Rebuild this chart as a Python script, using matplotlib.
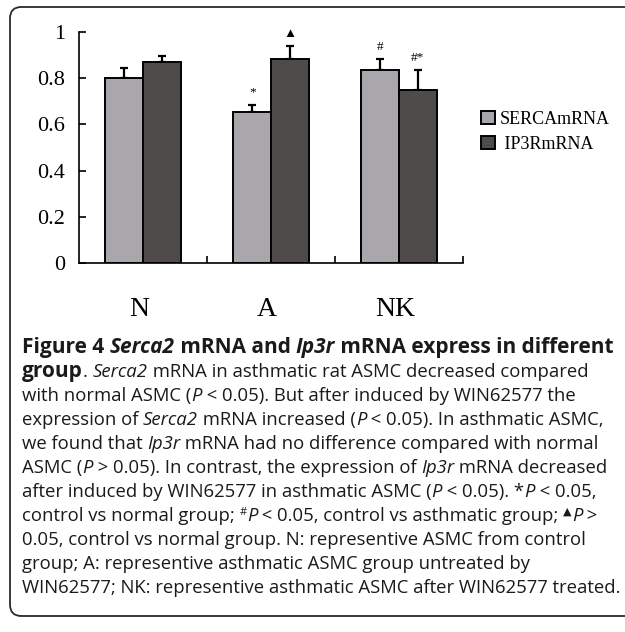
import matplotlib
matplotlib.use("Agg")
import matplotlib.pyplot as plt
import matplotlib.transforms as mtransforms
import numpy as np
from matplotlib.patches import FancyBboxPatch

# expression levels per group (relative units)
groups = ["N", "A", "NK"]
series_names = ["SERCAmRNA", "IP3RmRNA"]
serca = [0.80, 0.655, 0.835]
serca_err = [0.045, 0.028, 0.048]
ip3r = [0.868, 0.883, 0.750]
ip3r_err = [0.030, 0.055, 0.084]
serca_marks = ["", "*", "#"]
ip3r_marks = ["", "\u25b2", "#*"]
yticks = [0, 0.2, 0.4, 0.6, 0.8, 1]
ytick_labels = ["0", "0.2", "0.4", "0.6", "0.8", "1"]

# caption, one list of (text, style) runs per printed line
caption = [
    [("Figure 4 ", "b"), ("Serca2", "bi"), (" mRNA and ", "b"), ("Ip3r", "bi"),
     (" mRNA express in different", "b")],
    [("group", "b"), (". ", "r"), ("Serca2", "i"),
     (" mRNA in asthmatic rat ASMC decreased compared", "r")],
    [("with normal ASMC (", "r"), ("P", "i"), (" < 0.05). But after induced by WIN62577 the", "r")],
    [("expression of ", "r"), ("Serca2", "i"), (" mRNA increased (", "r"), ("P", "i"),
     (" < 0.05). In asthmatic ASMC,", "r")],
    [("we found that ", "r"), ("Ip3r", "i"), (" mRNA had no difference compared with normal", "r")],
    [("ASMC (", "r"), ("P", "i"), (" > 0.05). In contrast, the expression of ", "r"), ("Ip3r", "i"),
     (" mRNA decreased", "r")],
    [("after induced by WIN62577 in asthmatic ASMC (", "r"), ("P", "i"), (" < 0.05). *", "r"),
     ("P", "i"), (" < 0.05,", "r")],
    [("control vs normal group; ", "r"), ("#", "sup"), ("P", "i"),
     (" < 0.05, control vs asthmatic group; ", "r"), ("\u25b2", "sup"), ("P", "i"), (" >", "r")],
    [("0.05, control vs normal group. N: representive ASMC from control", "r")],
    [("group; A: representive asthmatic ASMC group untreated by", "r")],
    [("WIN62577; NK: representive asthmatic ASMC after WIN62577 treated.", "r")],
]

W, H = 625, 632
serif = ["Liberation Serif", "DejaVu Serif"]
light = "#a9a7ab"
dark = "#4f4b4b"

fig = plt.figure(figsize=(W / 100, H / 100), dpi=100)
fig.patch.set_facecolor("white")
ax = fig.add_axes([79 / W, 1 - 263 / H, (463 - 79) / W, (263 - 32) / H])

x = np.arange(len(groups))
bw = 0.293
ax.bar(x - bw / 2, serca, bw, color=light, edgecolor="black", linewidth=1.4,
       label=series_names[0], zorder=2)
ax.bar(x + bw / 2, ip3r, bw, color=dark, edgecolor="black", linewidth=1.4,
       label=" " + series_names[1], zorder=2)
ax.errorbar(x - bw / 2, serca, yerr=[np.zeros(len(x)), serca_err], fmt="none",
            ecolor="black", elinewidth=1.6, capsize=3, capthick=1.6, zorder=1)
ax.errorbar(x + bw / 2, ip3r, yerr=[np.zeros(len(x)), ip3r_err], fmt="none",
            ecolor="black", elinewidth=1.6, capsize=3, capthick=1.6, zorder=1)

# significance marks above the error bars
for xs, vals, errs, marks in [(x - bw / 2, serca, serca_err, serca_marks),
                              (x + bw / 2, ip3r, ip3r_err, ip3r_marks)]:
    for xi, v, e, m in zip(xs, vals, errs, marks):
        if m:
            ax.annotate(m, (xi, v + e), xytext=(0, 9), textcoords="offset points",
                        ha="center", va="center", fontsize=9.5,
                        family=serif + ["DejaVu Sans"])

ax.set_xlim(-0.5, len(groups) - 0.5)
ax.set_ylim(0, 1)
ax.set_yticks(yticks)
ax.set_yticklabels(ytick_labels, family=serif, fontsize=16)
ax.set_xticks(list(x + 0.5))
ax.set_xticklabels([])
ax.tick_params(axis="y", direction="in", length=5, width=1.2, pad=10)
ax.tick_params(axis="x", direction="in", length=5, width=1.2)
for s in ["top", "right"]:
    ax.spines[s].set_visible(False)
for s in ["left", "bottom"]:
    ax.spines[s].set_linewidth(1.2)

# group names under the axis
trans = mtransforms.blended_transform_factory(ax.transData, fig.transFigure)
for xi, g in zip(x, groups):
    ax.text(xi - 0.03, 1 - 310 / H, g, transform=trans, ha="center", va="center",
            fontsize=20, family=serif)

ax.legend(loc="upper left", bbox_to_anchor=(481 / W, 1 - 111 / H),
          bbox_transform=fig.transFigure, frameon=False,
          prop={"family": serif, "size": 13}, handlelength=0.75, handleheight=0.75,
          handletextpad=0.3, labelspacing=0.45, borderpad=0, borderaxespad=0)

# rounded frame around figure and caption
frame = FancyBboxPatch((10 / W, 1 - 616 / H), 660 / W, (616 - 7) / H,
                       boxstyle="round,pad=0,rounding_size=0.018",
                       transform=fig.transFigure, fill=False,
                       edgecolor="#2b2b2b", linewidth=1.3)
fig.add_artist(frame)

# caption, run by run
cap_family = ["Open Sans", "DejaVu Sans"]
renderer = fig.canvas.get_renderer()


def style_kw(style, size, bold_scale=1.0):
    kw = {"family": cap_family, "fontsize": size, "color": "#1a1a1a"}
    if style in ("b", "bi"):
        kw["fontweight"] = "bold"
        kw["fontsize"] = size * bold_scale
    if style in ("i", "bi"):
        kw["fontstyle"] = "italic"
    if style == "sup":
        kw["fontsize"] = size * 0.6
    return kw


def run_width(txt, style, size, bold_scale=1.0):
    kw = style_kw(style, size, bold_scale)
    a = fig.text(0, 0, "|" + txt + "|", **kw)
    b = fig.text(0, 0, "||", **kw)
    w = a.get_window_extent(renderer).width - b.get_window_extent(renderer).width
    a.remove()
    b.remove()
    return w


x0 = 22
base = 12.0
ref_w = sum(run_width(t, s, base) for t, s in caption[-1])
cap_size = base * (621 - x0) / ref_w
head_w = sum(run_width(t, s, cap_size) for t, s in caption[0])
bold_scale = (612 - x0) / head_w

y0 = 353
dy = 24
for i, line in enumerate(caption):
    xp = x0
    yb = y0 + i * dy
    for txt, style in line:
        kw = style_kw(style, cap_size, bold_scale)
        yy = yb - (6 if style == "sup" else 0)
        fig.text(xp / W, 1 - yy / H, txt, ha="left", va="baseline", **kw)
        xp += run_width(txt, style, cap_size, bold_scale)

fig.savefig("out.png", dpi=100, facecolor="white")
